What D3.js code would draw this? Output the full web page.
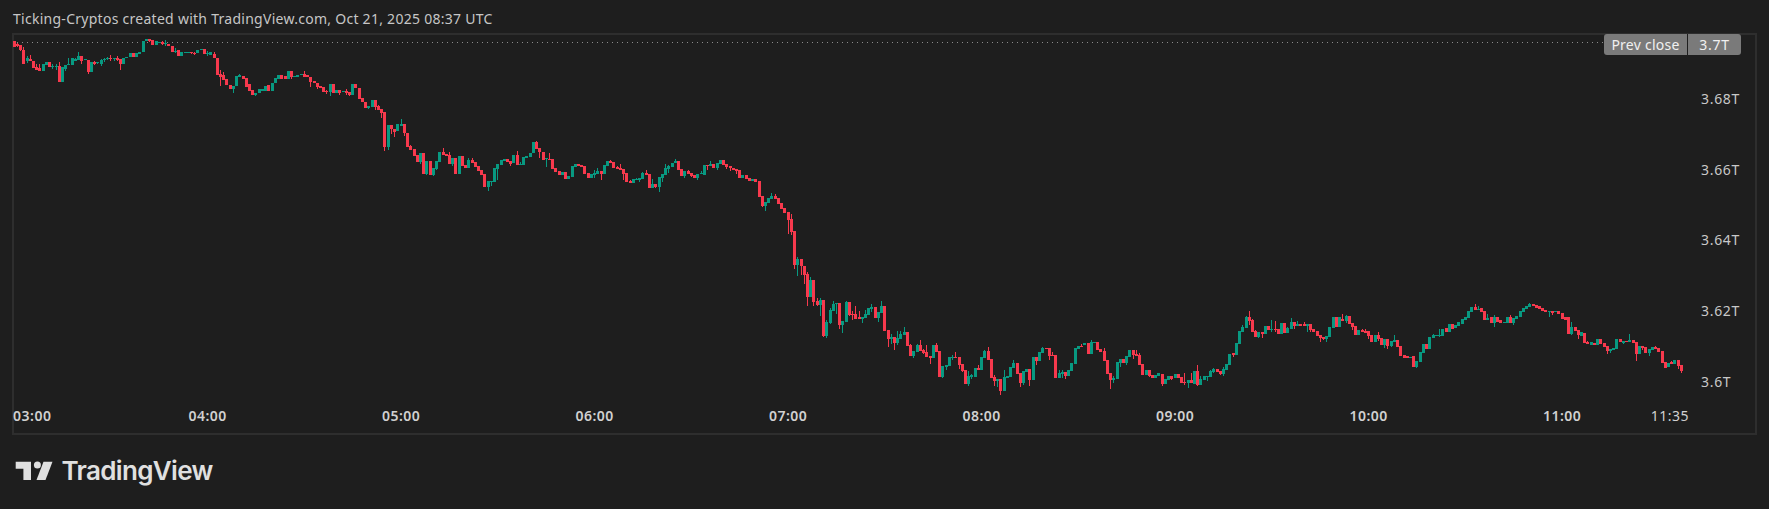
<!DOCTYPE html>
<html><head><meta charset="utf-8">
<script src="https://cdn.jsdelivr.net/npm/d3@7"></script>
<style>html,body{margin:0;padding:0;background:#1e1e1e;overflow:hidden}svg{display:block}</style>
</head><body><div id="c"></div>
<script>
// Market cap in billions above 3600B, one candle per minute from 03:00
const baseBillions = 3600;
const opens = [
96.4,95.5,95.2,94.0,90.7,91.3,90.7,89.1,88.7,87.9,
89.5,90.5,89.0,89.1,89.4,84.8,88.5,89.5,89.6,90.8,
91.1,92.1,90.9,91.0,87.6,90.4,90.1,89.8,91.0,91.2,
91.6,91.3,91.6,91.3,89.8,91.5,91.8,93.1,92.0,92.6,
93.3,96.5,97.1,96.6,95.2,96.0,96.0,95.6,95.7,95.1,
93.3,93.8,92.2,92.9,93.1,93.4,93.1,93.1,93.9,94.1,
92.9,92.5,92.6,91.6,87.2,86.7,85.8,84.1,82.9,83.7,
86.3,86.5,85.9,84.2,82.5,81.2,81.6,82.2,82.2,83.9,
82.2,84.4,85.7,86.7,86.5,85.6,87.9,86.3,86.2,86.8,
87.1,86.9,86.2,85.2,84.4,83.8,83.4,82.3,81.9,84.2,
81.7,82.5,81.9,82.3,82.0,81.1,84.2,83.1,80.3,79.1,
77.5,77.8,79.7,78.0,77.1,76.3,66.4,72.6,71.5,70.9,
72.5,72.9,70.5,66.7,65.8,64.1,62.2,64.7,58.8,62.4,
58.4,60.2,62.3,65.0,64.4,64.1,61.6,63.2,58.8,63.9,
61.3,60.4,62.7,62.2,61.0,59.9,58.8,55.1,56.6,56.6,
60.2,61.3,62.4,63.0,62.4,61.9,64.1,61.2,61.3,63.3,
63.5,64.6,67.8,66.1,65.0,62.9,63.0,63.0,60.5,59.6,
58.5,59.3,57.3,57.9,60.7,61.6,61.3,61.0,59.0,57.6,
58.5,58.8,59.5,58.7,61.0,62.4,62.1,60.7,60.4,60.2,
59.0,56.8,56.2,57.0,57.0,57.3,59.0,58.7,54.8,55.9,
55.1,57.6,58.5,60.2,60.7,61.8,62.4,60.2,58.2,59.5,
59.0,58.5,57.6,58.7,58.5,61.3,61.0,61.6,60.4,61.6,
62.7,61.6,61.0,60.4,60.2,59.9,57.6,58.5,57.6,56.8,
57.3,56.8,52.5,49.7,50.5,51.7,52.5,52.0,50.5,49.1,
48.0,46.0,42.6,33.0,34.7,32.7,30.4,23.9,28.7,22.8,
21.7,23.1,12.9,16.6,20.0,22.0,22.2,16.0,16.9,22.5,
19.1,19.1,18.4,17.7,18.0,18.8,20.7,21.1,18.0,19.4,
21.4,14.6,12.0,12.6,10.9,12.0,13.2,14.0,10.3,7.2,
8.4,10.3,8.9,8.4,7.2,6.7,10.3,8.6,1.3,4.1,
4.4,6.7,6.9,6.9,5.0,3.3,-0.7,1.3,1.3,3.8,
3.3,6.7,8.6,6.4,1.3,0.1,0.7,-2.7,1.0,1.3,
3.8,5.2,2.4,-0.4,2.7,3.5,0.4,6.9,5.8,8.1,
9.5,9.5,7.5,7.5,1.0,2.1,2.7,1.6,3.0,5.0,
9.2,10.1,10.5,10.9,7.8,11.0,11.2,9.3,8.6,6.2,
2.4,0.4,0.7,5.2,6.4,5.2,6.9,8.9,7.8,7.5,
5.0,1.8,3.3,1.8,1.0,1.5,2.1,-0.7,0.4,1.6,
1.0,2.1,1.3,-0.1,-0.4,0.4,-0.7,3.0,-1.0,0.4,
1.3,1.2,2.7,3.5,3.0,2.1,3.3,4.7,8.0,7.5,
10.6,14.0,15.1,18.3,17.4,14.3,12.6,14.0,13.4,15.7,
14.6,14.8,14.8,13.4,16.6,13.7,14.9,16.8,15.7,16.3,
16.2,15.8,16.3,14.9,14.3,13.2,12.6,12.0,12.6,15.1,
18.3,15.4,17.7,17.1,18.5,16.6,15.7,13.2,14.6,14.3,
14.3,13.2,11.2,13.2,12.3,10.3,12.0,10.1,11.2,11.8,
10.0,7.5,7.3,6.6,7.2,4.1,5.5,8.1,10.6,9.2,
12.3,12.9,13.0,12.9,15.1,14.0,16.3,15.1,15.7,16.3,
17.4,18.0,19.7,21.1,20.2,20.8,20.0,17.4,18.3,16.6,
18.3,17.4,16.5,16.6,18.3,16.5,17.7,18.3,19.7,20.5,
21.2,21.9,21.8,21.4,20.8,20.2,19.7,20.0,19.7,20.0,
19.4,18.3,18.3,13.4,15.4,14.6,12.9,13.7,11.2,10.5,
10.9,10.3,12.0,10.9,10.1,8.6,8.9,9.2,12.0,11.0,
11.6,11.2,11.8,11.2,7.8,10.1,9.8,8.1,8.9,9.8,
9.5,8.6,5.5,4.1,5.5,5.0,6.1,4.7];
const closes = [
94.8,95.1,94.0,90.0,91.6,90.7,88.8,88.3,87.9,89.8,
90.5,89.1,89.4,89.4,84.8,89.1,89.5,89.9,91.5,91.2,
92.1,90.8,91.3,87.6,90.6,89.9,90.5,91.0,91.4,91.6,
91.4,91.5,91.1,89.8,91.7,91.9,93.1,91.9,93.0,93.3,
96.5,97.1,96.5,95.2,96.4,96.2,95.5,95.9,95.0,93.2,
93.7,92.2,93.3,93.3,93.4,92.9,92.9,94.0,94.1,92.8,
93.1,93.3,91.5,86.7,86.3,85.3,83.9,82.7,83.7,86.5,
86.7,85.8,83.4,82.3,81.1,81.8,82.7,82.7,83.8,82.2,
84.6,86.0,86.7,85.6,85.6,87.9,86.1,86.5,86.9,87.1,
86.1,86.1,84.8,84.4,83.5,83.2,82.0,81.9,84.2,81.7,
82.5,81.7,82.3,81.8,81.1,84.2,83.0,80.0,79.1,77.4,
78.0,79.7,77.7,76.9,75.9,66.4,72.6,71.5,70.7,72.9,
72.9,70.4,66.4,65.6,63.9,62.2,64.7,58.8,62.4,58.5,
60.5,62.4,65.0,64.2,63.9,61.6,63.2,58.8,63.9,61.0,
60.4,62.7,61.9,60.7,59.6,58.5,55.1,56.8,56.8,60.5,
61.6,62.7,63.0,62.2,61.6,64.1,61.3,61.5,63.6,63.9,
64.6,67.8,65.8,65.0,62.7,63.3,62.8,60.2,59.3,58.5,
59.3,57.4,58.2,61.0,61.6,61.0,60.7,58.8,57.6,58.8,
59.0,59.6,58.7,61.3,62.4,61.8,60.4,60.3,59.9,58.7,
56.5,56.2,57.3,57.3,57.6,59.0,58.5,54.8,55.9,55.1,
57.9,58.7,60.4,61.0,61.9,62.4,59.9,58.2,59.5,58.7,
58.2,57.6,58.7,59.0,61.3,61.1,61.6,60.4,61.9,62.7,
61.3,60.7,60.4,59.9,59.6,57.6,58.5,57.3,56.8,57.3,
56.5,52.2,49.7,50.8,52.0,52.5,51.7,50.3,48.8,47.7,
45.7,42.3,33.0,34.7,32.7,30.2,23.9,28.7,22.5,21.7,
23.1,12.9,16.9,20.2,22.0,22.2,16.0,17.1,22.5,18.8,
18.8,17.7,17.7,18.3,19.1,20.8,21.1,18.0,19.7,21.4,
14.3,12.0,12.6,10.9,12.3,13.4,14.0,10.1,7.2,8.6,
10.3,8.6,8.1,6.9,6.7,10.3,8.4,1.3,4.4,4.7,
6.9,6.9,6.7,4.7,3.0,-0.7,1.6,1.8,3.8,3.3,
6.9,8.6,6.1,1.0,0.1,0.7,-2.7,1.3,1.6,4.1,
5.2,2.1,-0.4,3.0,3.5,0.4,6.9,5.8,8.4,9.5,
9.2,7.2,7.2,1.0,2.4,2.7,1.6,3.3,5.2,9.5,
10.1,9.8,10.9,7.8,11.2,11.2,8.9,8.4,5.9,2.1,
0.4,1.0,5.5,6.4,5.2,7.2,8.9,7.5,7.2,4.7,
1.8,3.3,1.6,1.0,1.8,2.4,-0.7,0.7,1.6,0.7,
2.1,1.0,-0.4,-0.4,0.4,-0.4,3.0,-1.0,0.7,1.6,
1.6,3.0,3.5,2.7,2.1,3.5,5.0,7.8,7.5,10.9,
14.3,15.4,18.3,17.1,14.0,12.6,14.0,13.4,15.7,14.6,
14.8,14.5,13.4,16.6,13.7,15.1,16.8,15.7,16.2,15.7,
15.7,16.3,14.6,14.0,12.9,12.3,12.0,12.9,15.4,18.3,
15.4,18.3,17.1,18.5,16.3,15.4,13.2,14.6,14.0,13.9,
12.9,11.2,13.2,12.0,10.3,12.0,10.1,11.5,11.8,9.8,
7.3,6.8,6.8,7.1,4.1,5.8,8.4,10.6,9.2,12.6,
13.2,13.2,13.2,14.9,14.2,16.3,14.9,16.0,16.8,17.7,
18.3,20.0,21.1,20.2,20.5,19.7,17.4,18.0,16.6,18.3,
16.8,16.6,16.8,18.3,16.6,18.0,18.5,20.0,20.8,21.4,
21.9,21.4,20.8,20.5,20.0,19.7,20.0,19.4,20.0,19.1,
17.7,17.4,13.4,15.4,14.3,13.2,14.0,10.9,10.6,11.2,
10.4,12.0,10.6,9.8,8.6,9.2,9.5,12.0,11.2,11.5,
11.2,11.8,10.9,7.8,10.1,9.5,8.1,9.2,9.8,9.2,
8.4,5.2,4.0,5.2,5.0,6.1,4.4,3.0];
// Wicks, by candle index; candles not listed have no visible wick on that side
const highs = {1:95.9,3:94.7,4:92.1,5:92.4,7:89.8,8:90.0,9:90.0,12:89.8,13:89.8,14:90.4,17:91.6,19:91.5,20:93.2,25:90.8,27:91.3,28:91.7,29:91.9,30:92.4,31:91.7,32:92.3,46:96.3,47:96.8,50:94.3,56:93.4,60:93.6,62:93.2,64:88.1,65:87.7,70:87.0,90:87.9,97:82.6,103:82.8,113:78.3,120:74.3,123:67.0,133:66.1,135:65.0,141:63.3,142:63.3,156:65.3,157:62.1,162:68.2,166:64.6,180:59.9,181:60.5,185:62.7,187:61.0,188:61.6,191:57.2,193:57.6,195:59.3,196:59.9,198:57.3,202:61.6,203:61.3,205:63.0,209:59.9,213:59.6,216:62.4,235:53.4,236:53.1,241:47.4,243:35.3,246:31.0,247:29.6,249:23.7,250:23.7,252:17.4,253:20.8,254:22.8,258:22.8,260:20.0,261:21.4,262:20.0,264:20.3,266:22.0,269:22.8,272:13.5,274:14.3,275:14.3,276:15.4,278:10.8,280:10.8,281:11.8,282:9.2,283:10.3,286:10.9,291:7.5,292:8.4,296:3.0,297:2.3,299:4.7,301:8.9,302:9.8,304:1.8,307:3.3,310:6.1,319:9.8,322:8.4,324:3.3,325:3.3,331:10.8,334:11.8,338:9.4,341:1.6,348:8.9,349:8.1,363:2.4,365:2.4,367:4.7,368:1.6,371:3.3,372:3.8,375:4.1,378:8.2,381:16.0,382:18.5,383:20.0,384:17.7,385:14.6,390:17.4,391:17.1,395:15.4,396:18.0,398:17.1,400:16.8,412:19.1,413:18.8,418:14.9,419:14.9,423:14.0,428:13.2,440:13.4,442:14.9,453:21.9,454:21.4,457:19.1,459:18.8,464:18.8,470:22.2,483:16.8,488:11.5,501:13.4,509:10.1,514:5.8};
const lows = {1:94.8,2:93.6,4:90.2,12:88.6,13:88.3,16:88.0,21:90.0,23:87.0,25:89.5,26:89.9,27:89.4,28:90.6,29:91.0,30:90.7,31:90.8,32:90.7,33:88.1,42:96.0,46:95.2,47:95.0,50:93.1,55:92.6,56:92.5,60:92.2,64:83.6,68:81.7,75:80.8,86:85.7,92:83.5,94:82.8,97:81.5,98:80.9,101:81.1,103:81.1,104:80.8,110:77.1,112:76.9,114:74.5,115:65.3,116:65.6,117:70.1,118:69.3,121:69.5,126:61.6,128:58.4,130:58.2,131:59.9,136:61.0,147:54.0,148:55.4,150:57.1,154:61.0,163:63.3,165:60.7,180:57.6,182:57.0,189:57.0,194:56.5,199:54.7,200:53.7,201:56.5,203:59.0,208:57.6,210:57.9,212:57.0,215:59.9,218:59.9,221:60.2,222:59.7,224:58.9,232:49.4,233:48.3,240:41.8,241:41.5,242:31.9,243:29.9,244:30.2,245:27.6,246:21.4,248:21.4,249:21.4,250:18.6,251:12.6,252:12.3,253:16.3,255:19.1,256:14.9,257:13.7,259:18.5,260:17.6,263:16.6,266:19.7,268:16.9,271:9.9,272:10.6,273:8.9,274:10.4,279:6.7,282:7.8,284:5.0,288:1.0,289:3.3,291:6.1,293:3.5,294:2.7,296:-1.3,297:0.9,304:-1.3,305:-1.6,306:-3.8,312:-1.6,313:-1.0,315:-1.3,317:4.7,321:6.1,325:1.0,326:0.9,340:-2.1,341:-0.4,343:4.1,345:4.7,347:6.4,352:1.3,356:-1.3,359:0.4,363:-1.0,364:-1.8,367:-1.3,370:0.1,372:2.4,374:1.8,375:1.6,378:6.9,383:16.0,386:12.3,387:12.3,390:14.0,391:14.2,397:14.9,401:14.0,402:14.1,405:11.2,406:11.8,407:11.2,413:16.7,415:14.6,420:12.0,423:11.5,425:9.5,426:9.2,427:9.8,435:3.8,442:12.6,459:15.4,465:16.1,476:18.4,477:18.8,483:13.2,485:12.0,494:7.8,495:8.0,499:10.6,503:5.8,505:8.9,507:7.2,516:3.5,517:2.4};
const priceTicks = [3600, 3620, 3640, 3660, 3680];
const priceLabels = ["3.6T", "3.62T", "3.64T", "3.66T", "3.68T"];
const prevClose = 3696;
const prevCloseLabel = "3.7T";
const timeTicks = [0, 60, 120, 180, 240, 300, 360, 420, 480, 515];
const timeLabels = ["03:00", "04:00", "05:00", "06:00", "07:00", "08:00", "09:00", "10:00", "11:00", "11:35"];
const title = "Ticking-Cryptos created with TradingView.com, Oct 21, 2025 08:37 UTC";

const W = 1769, H = 509;
const UP = "#089981", DOWN = "#f7394d", BG = "#1e1e1e", FRAME = "#2e2e2e";
const font = "'Noto Sans', sans-serif";
const x = d3.scaleLinear().domain([0, 517]).range([13.6, 13.6 + 517 * 3.225]);
const y = d3.scaleLinear().domain([3600, 3680]).range([381.7, 99]);

const svg = d3.select("#c").append("svg").attr("width", W).attr("height", H).style("background", BG);

svg.append("rect").attr("x", 13).attr("y", 34).attr("width", 1743).attr("height", 400)
  .attr("fill", "none").attr("stroke", FRAME).attr("stroke-width", 2);

svg.append("text").attr("x", 13).attr("y", 24).attr("fill", "#c6c6c6")
  .style("font", "14px " + font).style("letter-spacing", "0.27px").text(title);

// prev close line
svg.append("line").attr("x1", 17).attr("x2", 1604)
  .attr("y1", Math.round(y(prevClose)) + .5).attr("y2", Math.round(y(prevClose)) + .5)
  .attr("stroke", "#8c8c8c").attr("stroke-width", 1).attr("stroke-dasharray", "1 4");

// candles
const candles = d3.range(opens.length).map(i => {
  const o = opens[i], c = closes[i];
  return { i, o, c, h: highs[i] ?? Math.max(o, c), l: lows[i] ?? Math.min(o, c) };
});
const g = svg.append("g").attr("shape-rendering", "crispEdges");
const cx = d => Math.round(x(d.i));
g.selectAll(".wick").data(candles).join("rect").attr("class", "wick")
  .attr("x", d => cx(d)).attr("width", 1)
  .attr("y", d => Math.round(y(baseBillions + d.h)))
  .attr("height", d => Math.max(1, Math.round(y(baseBillions + d.l)) - Math.round(y(baseBillions + d.h))))
  .attr("fill", d => d.c >= d.o ? UP : DOWN);
g.selectAll(".body").data(candles).join("rect").attr("class", "body")
  .attr("x", d => cx(d) - 1).attr("width", 3)
  .attr("y", d => Math.round(y(baseBillions + Math.max(d.o, d.c))))
  .attr("height", d => Math.max(1, Math.round(y(baseBillions + Math.min(d.o, d.c))) - Math.round(y(baseBillions + Math.max(d.o, d.c)))))
  .attr("fill", d => d.c >= d.o ? UP : DOWN);

// right axis
const yAxis = d3.axisRight(y).tickValues(priceTicks).tickSize(0).tickPadding(0)
  .tickFormat((d, i) => priceLabels[i]);
const gy = svg.append("g").attr("transform", "translate(1701,0)").call(yAxis);
gy.select(".domain").remove();
gy.selectAll("text").attr("fill", "#c8c8c8").style("font", "14px " + font).style("letter-spacing", "0.7px");

// prev close pill
const pillY = 34, pillH = 21;
svg.append("rect").attr("x", 1604).attr("y", pillY).attr("width", 137).attr("height", pillH).attr("rx", 3).attr("fill", "#7a7a7a");
svg.append("rect").attr("x", 1687).attr("y", pillY).attr("width", 1).attr("height", pillH).attr("fill", BG);
svg.append("text").attr("x", 1645.5).attr("y", pillY + 15.5).attr("text-anchor", "middle").attr("fill", "#f0f0f0").style("font", "14px " + font).style("letter-spacing", "0.25px").text("Prev close");
svg.append("text").attr("x", 1714.5).attr("y", pillY + 15.5).attr("text-anchor", "middle").attr("fill", "#f0f0f0").style("font", "14px " + font).style("letter-spacing", "0.7px").text(prevCloseLabel);

// time axis
const xAxis = d3.axisBottom(x).tickValues(timeTicks).tickSize(0).tickPadding(0)
  .tickFormat((d, i) => timeLabels[i]);
const gx = svg.append("g").attr("transform", "translate(0,411)").call(xAxis);
gx.select(".domain").remove();
gx.selectAll("text").attr("fill", "#d1d1d1").attr("dy", "0.71em")
  .style("font", (d) => (d === 515 ? "400" : "600") + " 14px " + font).style("letter-spacing", "0.5px");
gx.selectAll(".tick").filter(d => d === 0).select("text").attr("text-anchor", "start").attr("x", -1);
gx.selectAll(".tick").filter(d => d === 515).select("text").attr("x", -5);

// TradingView logo
const logo = svg.append("g").attr("fill", "#e0e0e0");
logo.append("path").attr("d", "M15.7 461.7H31V480H23.4V468.8H15.7Z");
logo.append("circle").attr("cx", 37.4).attr("cy", 465).attr("r", 3.5);
logo.append("path").attr("d", "M43.5 461.7H52.5L45.5 480H36.5Z");
logo.append("text").attr("x", 61.5).attr("y", 480).attr("fill", "#e0e0e0")
  .style("font", "600 26px Inter, sans-serif").style("letter-spacing", "-0.65px").text("TradingView");
</script></body></html>
